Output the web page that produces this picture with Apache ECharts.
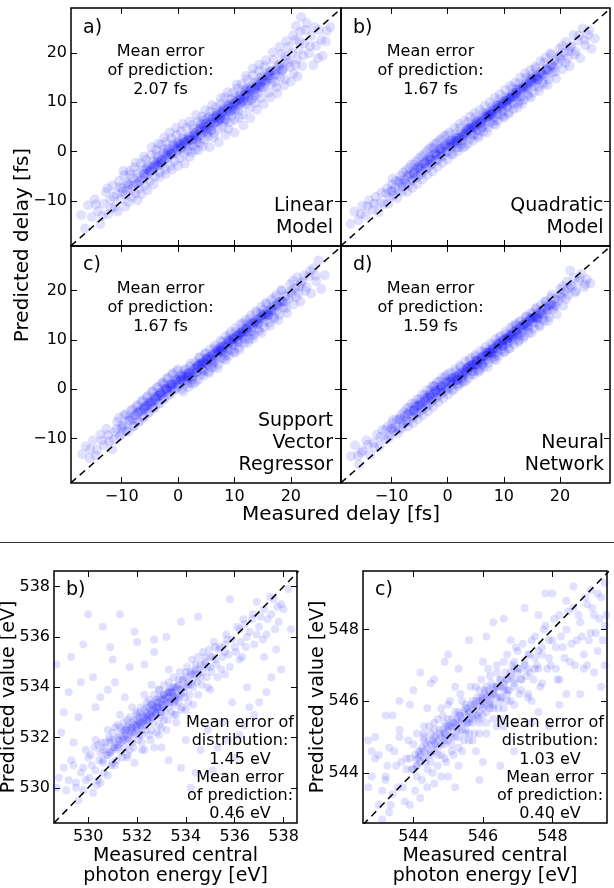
<!DOCTYPE html>
<html><head><meta charset="utf-8">
<script src="https://cdn.jsdelivr.net/npm/echarts@6/dist/echarts.min.js"></script>
<style>html,body{margin:0;padding:0;background:#fff}#c{width:614px;height:888px}</style>
</head><body><div id="c"></div>
<script>
// ---------- axis data ----------
const delayTicks = [-10, 0, 10, 20];
const delayX = [-19, 28.9];
const delayY = [-19.05, 29.05];
const energyBTicks = [530, 532, 534, 536, 538];
const energyBX = [528.6, 538.55];
const energyBY = [528.6, 538.62];
const energyCTicks = [544, 546, 548];
const energyCX = [542.55, 549.57];
const energyCY = [542.6, 549.63];

// ---------- point clouds [measured, predicted] ----------
const linearPts = [
[-17.2,-12.8],[-16.5,-15.5],[-16,-10.8],
[-15.3,-13.2],[-14.8,-9.6],[-14.2,-12],[-13.8,-14.6],
[-13.2,-10.5],[-12.8,-8.2],[-12.4,-12.6],[-12,-9.8],[-11.6,-6.8],
[-11.2,-11.2],[-10.9,-8.6],[-10.5,-5.9],[-10.2,-9.6],[-9.9,-7.4],[-9.6,-4.8],
[-9.3,-8.7],[-9,-6.2],[-8.8,-10.2],[-8.5,-4.6],[-8.3,-7.6],[-8,-5.5],[-7.8,-3.2],[-7.6,-8.4],
[-7.3,-6.4],[-7.1,-4.3],[-6.9,-7.5],[-6.6,-2.4],[-6.4,-5.6],[-6.2,-3.7],[-5.9,-6.9],[-5.7,-1.6],[-5.5,-4.6],
[-5.3,-2.8],[-5,-5.9],[-4.8,-0.6],[-4.6,-3.9],[-4.4,-1.9],[-4.1,-5],[-3.9,0.4],[-3.7,-2.9],[-3.5,-1],[-3.2,-4.2],
[-3,1.4],[-2.8,-2.1],[-2.6,-0.3],[-2.3,-3.6],[-2.1,1.9],[-1.9,-1.2],[-1.7,0.6],[-1.4,-2.8],[-1.2,2.7],[-1,-0.4],
[-0.8,1.2],[-0.6,-1.9],[-0.3,3.4],[-0.1,0.3],[0.1,2.1],[0.3,-1.3],[0.5,4.1],[0.7,1],[0.9,2.8],[1.1,-0.5],
[1.3,1.8],[1.5,4.8],[1.7,0.2],[1.9,3.1],[2.1,-1],[2.3,2.4],[2.5,5.4],[2.7,1.2],[2.9,3.7],[3.1,0.4],
[3.3,2.9],[3.5,6.1],[3.7,4.4],[3.9,1.7],[4.1,3.5],[4.3,7.1],[4.5,5.1],[4.7,2.4],[4.9,4.2],[5.1,6.6],
[5.3,3.1],[5.5,5.5],[5.7,8.2],[5.9,4.4],[6.1,6.7],[6.3,2.9],[6.5,5.9],[6.7,9],[6.9,7.3],[7.1,4.6],
[7.3,6.6],[7.5,9.7],[7.7,7.9],[7.9,5.1],[8.1,8.6],[8.3,11],[8.5,6.5],[8.7,9.3],[8.9,4.6],[9.1,8.1],
[9.3,10.6],[9.5,7.2],[9.7,11.9],[9.9,9.4],[10.1,6.4],[10.3,10.1],[10.5,12.8],[10.7,8.3],[10.9,11.2],[11.1,9.5],
[11.3,13.7],[11.5,7.5],[11.7,10.8],[11.9,12.4],[12.1,9.6],[12.3,14.6],[12.5,11.4],[12.7,8.8],[12.9,13.1],[13.1,10.7],
[13.3,15.5],[13.5,12.6],[13.7,9.9],[13.9,14.1],[14.1,11.8],[14.3,16.4],[14.5,13.5],[14.7,10.8],[14.9,15.2],[15.1,12.9],
[15.4,17.3],[15.7,14.4],[16,11.9],[16.3,16.2],[16.6,13.7],[16.9,18.6],[17.2,15.6],[17.5,13],[17.8,17.5],[18.1,15.1],
[18.4,19.8],[18.7,16.8],[19,14.6],[19.3,18.6],[19.6,21.2],[19.9,17.2],[20.2,19.9],[20.5,15.8],[20.8,22.6],[21.1,18.7],
[21.4,20.6],[21.7,24.3],[22,17.3],[22.4,21.9],[22.8,26],[23.2,19.9],[23.6,23.4],[24,17.5],[24.5,21.4],[25,24.6],[25.6,19.4],[26.2,22.3],[27,25.2],
[20.9,25.4],[21.8,27.2],
[0.3,1.6],[1.2,2.4],[2,1.1],[3,3.3],[3.9,4.7],[5,5.8],[5.8,4.3],[6.6,7],[7.4,8.2],[8.3,6.5],[9,9.6],[9.9,8.4],[10.6,10.3],[11.4,10],[12.2,12.7],[13,10.4],[13.8,12.7],[14.6,14.9],[15.5,14.3],[16.4,15.4],[-2.5,0.5],[-1.3,-0.3],[-3.6,-2],[-4.8,-3.4],[-6,-4.5],[-7.2,-5.2],[-8.6,-6.5],[-9.9,-8.1],
[-14.6,-10.6],[-13.5,-13],[-12.5,-7.4],[-11.9,-11.5],[-11.4,-9.1],[-10.7,-12.1],[-10.3,-7.2],[-9.7,-3.9],[-9.4,-11.1],[-9.1,-7.9],
[-8.6,-3.9],[-8.2,-9.3],[-7.9,-6.9],[-7.5,-2.2],[-7.2,-9.8],[-6.8,-5.9],[-6.5,-8.6],[-6.1,-1],[-5.8,-5.2],[-5.4,-7.8],
[-5.1,-3.9],[-4.7,0.9],[-4.3,-6.6],[-4,-2.6],[-3.6,1.6],[-3.3,-5.1],[-2.9,-1.5],[-2.5,2.9],[-2.2,-4.5],[-1.8,0.1],
[-1.5,3.9],[-1.1,-3.6],[-0.7,0.8],[-0.4,4.8],[0,-2.9],[0.4,1.4],[0.8,5.6],[1.2,-2.4],[1.6,2.6],[2,6.1],
[2.4,-0.1],[2.8,4.6],[3.2,7.4],[3.6,0.3],[4,5.6],[4.4,1.1],[4.8,8.4],[5.2,3.8],[5.6,0.9],[6,9.4],
[6.4,3.7],[6.8,7.9],[7.2,1.9],[7.6,10.8],[8,6],[8.4,3.4],[8.8,12],[9.2,5.9],[9.6,9.1],[10,3.9],
[10.4,13.6],[10.8,6.9],[11.2,12],[11.6,5.3],[12,15.3],[12.4,10.3],[12.8,6.8],[13.2,16.8],[13.6,11.3],[14,8.5],
[14.4,17.6],[14.8,13.1],[15.2,9.6],[15.6,18.5],[16,15.4],[16.4,11],[16.8,20.1],[17.2,14.1],[17.6,11.8],[18,21.2],
[18.4,16.5],[18.8,13.4],[19.2,22.4],[19.6,18],[20,14.2],[20.4,23.5],[20.8,17.6],[21.2,15.2],[21.6,22.3],[22.2,19.4],
[22.6,24.6],[23.4,21.3],[24.2,25.1],[24.8,18.9],[25.4,22.6],[26.4,24.4],[-1,1.5],[0.6,0.5],[1.8,2.2],[2.6,3.5],
[3.4,2],[4.2,4.3],[5.4,6.9],[6.2,5.4],[7,6],[7.8,7.5],[8.6,8.3],[9.4,9.7],[10.2,8.6],[11,10.6],
[11.8,11.5],[12.6,12.3],[13.4,13.9],[14.2,13.3],[15,14.4],[15.8,15.9],[16.6,16.4],[17.4,16.6],[18.2,17.9],[19,19.3],
[-5.6,-3.4],[-4.2,-3],[-3,-2.5],[-2,-0.2],[-0.2,1.7],[-7,-6.2],[-8.9,-6.7],[-3.8,-0.6],[4.6,6.4],[7.6,6.8]
];
const linearCorePts = [
[-6,-4.5],[-5.5,-3.6],[-5,-4],[-4.5,-3],[-4,-2.5],[-3.5,-2.7],[-3,-1.6],[-2.5,-1.7],[-2,-0.6],[-1.5,-0.8],
[-1,0.3],[-0.5,-0.3],[0,1.3],[0.5,0.8],[1,2],[1.5,1.4],[2,3],[2.5,2.3],[3,3.8],[3.5,3],
[4,4.7],[4.5,3.9],[5,5.6],[5.5,5],[6,6.4],[6.5,5.8],[7,7.4],[7.5,6.6],[8,8.2],[8.5,7.5],
[9,9.2],[9.5,8.4],[10,10],[10.5,9.3],[11,11],[11.5,10.2],[12,11.8],[12.5,11.1],[13,12.8],[13.5,12],
[14,13.6],[14.5,12.9],[15,14.6],[15.5,13.8],[16,15.4],[16.5,14.7],[17,16.4],[17.5,15.5],[18,17.2],[18.5,16.4],
[-0.2,0.6],[0.8,1.6],[1.8,2.4],[2.8,3.3],[3.8,4.2],[4.8,5.1],[5.8,5.9],[6.8,6.9],[7.8,7.9],[8.8,8.7],
[9.8,9.6],[10.8,10.5],[11.8,11.4],[12.8,12.4],[13.8,13.2],[14.8,14.1],[15.8,15],[-1.2,-0.5],[-2.2,-1.2],[-3.2,-2.2],
[6.2,7.2],[7.2,6.3],[8.2,9],[9.2,8.1],[10.2,11],[11.2,10],[5.2,4.6],[4.2,5.5],[3.2,2.4],[12.2,12.8]
];
const quadraticPts = [
[-17.3,-14.6],[-16.6,-12.1],[-15.9,-13.8],[-15.2,-10.9],[-14.6,-12.9],[-14,-9.8],[-13.4,-11.7],[-12.8,-9.1],[-12.3,-12.2],[-11.8,-8.3],
[-11.3,-10.6],[-10.8,-7.4],[-10.4,-9.3],[-10,-6.6],[-9.6,-8.9],[-9.2,-5.9],[-8.8,-7.9],[-8.4,-4.9],[-8,-7.1],[-7.7,-5.6],
[-7.4,-3.8],[-7.1,-6.8],[-6.8,-4.5],[-6.5,-2.6],[-6.2,-5.7],[-5.9,-3.7],[-5.6,-1.9],[-5.3,-4.9],[-5,-2.8],[-4.7,-0.9],
[-4.4,-4.1],[-4.1,-2],[-3.8,0.1],[-3.5,-3.2],[-3.2,-1.1],[-2.9,0.9],[-2.6,-2.4],[-2.3,-0.3],[-2,1.8],[-1.7,-1.6],
[-1.4,0.6],[-1.1,2.6],[-0.8,-0.8],[-0.5,1.4],[-0.2,3.4],[0.1,0.1],[0.4,2.2],[0.7,-0.4],[1,1.3],[1.3,3.7],
[1.6,0.8],[1.9,2.9],[2.2,4.8],[2.5,1.6],[2.8,3.5],[3.1,1.1],[3.4,4.3],[3.7,6],[4,2.6],[4.3,5],
[4.6,3.3],[4.9,6.9],[5.2,4.4],[5.5,2.9],[5.8,6.1],[6.1,4.8],[6.4,7.9],[6.7,5.6],[7,3.9],[7.3,7.2],
[7.6,5.9],[7.9,9.1],[8.2,7],[8.5,5.4],[8.8,8.4],[9.1,10.5],[9.4,7.4],[9.7,9.6],[10,6.9],[10.3,11.2],
[10.6,9],[10.9,7.6],[11.2,10.9],[11.5,12.9],[11.8,9.6],[12.1,11.8],[12.4,8.9],[12.7,13.8],[13,11.2],[13.3,9.7],
[13.6,13],[13.9,15],[14.2,11.6],[14.5,13.9],[14.8,10.9],[15.1,15.6],[15.4,13.2],[15.7,16.8],[16,14.6],[16.3,12.3],
[16.6,16.1],[16.9,14],[17.2,18.1],[17.5,15.3],[17.8,13.5],[18.1,17.2],[18.4,19.6],[18.7,16],[19,18.4],[19.3,14.8],
[19.6,17.8],[19.9,20.8],[20.2,18.6],[20.5,16.7],[20.8,20],[21.1,22.2],[21.4,19],[21.7,17.3],[22,21.3],[22.4,23.6],
[22.8,20.2],[23.2,22.4],[23.6,18.9],[24,24.9],[24.5,21.5],[25,23.6],[25.6,20.8],[26.2,22.9],
[0.2,1.6],[1.2,2.2],[2,0.9],[3,3.2],[3.9,4.6],[5,5.9],[5.7,4.2],[6.6,6.8],[7.4,8.1],[8.3,6.3],[8.9,9.5],[9.8,8.2],[10.5,10.1],[11.4,9.8],[12.2,12.6],[12.9,10.3],[13.8,12.5],[14.6,14.8],[15.5,14.1],[16.4,15.2],[-2.5,0.7],[-1.3,-0.2],[-3.6,-1.9],[-4.8,-3.3],[-6,-4.3],[-7.2,-4.9],[-8.6,-6.2],[-9.9,-7.9],[17.4,16.6],[18.9,17.1],[20,19.5],[21.6,20.3],
[-15.5,-12.6],[-14.3,-11],[-13.1,-10.5],[-12,-10.3],[-11,-8.4],[-10.6,-10.5],[-10.1,-8],[-9.8,-5.4],[-9.4,-7.3],[-9,-9.4],
[-8.6,-5.8],[-8.2,-8.2],[-7.9,-4.2],[-7.5,-6.4],[-7.2,-8.1],[-6.9,-3.3],[-6.6,-5.9],[-6.3,-7.3],[-6,-2.6],[-5.7,-5.3],
[-5.4,-6.5],[-5.1,-1.3],[-4.8,-4.6],[-4.5,-5.6],[-4.2,-0.5],[-3.9,-3.5],[-3.6,-4.7],[-3.3,0.6],[-3,-2.7],[-2.7,-4],
[-2.4,1.5],[-2.1,-1.8],[-1.8,-3.1],[-1.5,2.3],[-1.2,-1],[-0.9,-2.2],[-0.6,3.2],[-0.3,-0.1],[0,-1.5],[0.3,3.9],
[0.6,1],[0.9,-0.6],[1.2,4.8],[1.5,2.1],[1.8,0.1],[2.1,5.6],[2.4,2.9],[2.7,0.8],[3,6.2],[3.3,3.6],
[3.6,1.6],[3.9,7.1],[4.2,4.2],[4.5,2.2],[4.8,7.8],[5.1,5.3],[5.4,3.3],[5.7,8.5],[6,5.9],[6.3,4],
[6.6,9.3],[6.9,7],[7.2,4.9],[7.5,10],[7.8,7.6],[8.1,5.6],[8.4,10.9],[8.7,8.7],[9,6.3],[9.3,11.6],
[9.6,9.1],[9.9,7.2],[10.2,12.5],[10.5,10.3],[10.8,8],[11.1,13.3],[11.4,11],[11.7,8.6],[12,14],[12.3,11.9],
[12.6,9.8],[12.9,15],[13.2,12.7],[13.5,10.5],[13.8,15.8],[14.1,13.4],[14.4,11.2],[14.7,16.5],[15,14.3],[15.3,12],
[15.6,17.2],[15.9,15.3],[16.2,13.1],[16.5,18.3],[16.8,15.7],[17.1,13.6],[17.4,19],[17.7,16.5],[18,14.6],[18.3,19.9],
[18.6,17.5],[19.2,16.1],[19.8,19.1],[20.4,21.4],[21,18],[21.8,21],[22.6,19.6],[23.4,23.5],[24.4,22.6],[25.2,24.5],
[0.5,1.6],[1.6,2.8],[2.6,2.3],[3.5,4.5],[4.4,3.5],[5.3,6.2],[6.2,5.1],[7.1,6.9],[8,8.3],[8.9,7.6],
[9.8,10],[10.7,9.3],[11.6,11.8],[12.5,11.1],[13.4,13.2],[14.3,12.8],[15.2,14.8],[16.1,14.6],[-1,0.7],[-2,-0.6],
[-3.1,-1.6],[-4.1,-2.4],[-5.2,-3.1],[-6.1,-4.5],[-7,-5],[-8.1,-6.4],[7.6,7.5],[4.7,4.9],[1.7,1.9],[10.9,10.6]
];
const quadraticCorePts = [
[-6,-4.2],[-5.5,-3.3],[-5,-3.5],[-4.5,-2.5],[-4,-2.4],[-3.5,-1.6],[-3,-1.6],[-2.5,-0.6],[-2,-0.7],[-1.5,0.3],
[-1,0.2],[-0.5,1.1],[0,1],[0.5,2],[1,1.9],[1.5,2.9],[2,2.8],[2.5,3.7],[3,3.7],[3.5,4.6],
[4,4.4],[4.5,5.5],[5,5.3],[5.5,6.3],[6,6.1],[6.5,7.2],[7,7],[7.5,8],[8,7.9],[8.5,8.9],
[9,8.8],[9.5,9.7],[10,9.8],[10.5,10.6],[11,10.5],[11.5,11.5],[12,11.4],[12.5,12.4],[13,12.3],[13.5,13.2],
[14,13.2],[14.5,14.1],[15,13.9],[15.5,14.9],[16,14.8],[16.5,15.9],[17,15.6],[17.5,16.7],[18,16.5],[18.5,17.6],
[-0.2,1.4],[0.8,2.3],[1.8,2.2],[2.8,3.1],[3.8,4.9],[4.8,5],[5.8,5.7],[6.8,7.6],[7.8,7.5],[8.8,9.4],
[9.8,9.2],[10.8,11],[11.8,11.1],[12.8,12.8],[13.8,13.7],[14.8,14.5],[15.8,15.2],[-1.2,0.6],[-2.2,-0.3],[-3.2,-1.1],
[6.2,6.7],[7.2,7.5],[8.2,8.5],[9.2,9.3],[10.2,10.2],[11.2,11.1],[5.2,5.8],[4.2,4.9],[3.2,4.1],[12.2,11.9]
];
const svrPts = [
[-17,-13.2],[-16.4,-11.6],[-15.7,-14],[-15.1,-10.4],[-14.4,-12.3],[-13.8,-9.2],[-13.2,-11.4],[-12.7,-8.1],[-12.2,-10.6],[-11.7,-12.2],
[-11.2,-8.7],[-10.8,-6.6],[-10.4,-9.6],[-10,-7.4],[-9.6,-5.3],[-9.2,-8.5],[-8.8,-6.4],[-8.4,-4.4],[-8,-7.6],[-7.7,-5.4],
[-7.4,-3.6],[-7.1,-6.6],[-6.8,-4.6],[-6.5,-2.5],[-6.2,-5.8],[-5.9,-3.6],[-5.6,-1.7],[-5.3,-4.8],[-5,-2.5],[-4.7,-0.6],
[-4.4,-3.9],[-4.1,-1.6],[-3.8,0.4],[-3.5,-2.9],[-3.2,-0.8],[-2.9,1.2],[-2.6,-2.1],[-2.3,0.1],[-2,2.1],[-1.7,-1.2],
[-1.4,1],[-1.1,3],[-0.8,-0.4],[-0.5,1.8],[-0.2,3.7],[0.1,0.5],[0.4,2.6],[0.7,0],[1,1.8],[1.3,4.1],
[1.6,1.2],[1.9,3.3],[2.2,5.2],[2.5,2],[2.8,4],[3.1,1.4],[3.4,4.7],[3.7,6.4],[4,3],[4.3,5.4],
[4.6,3.6],[4.9,7.3],[5.2,4.9],[5.5,3.3],[5.8,6.5],[6.1,5.2],[6.4,8.3],[6.7,6.1],[7,4.3],[7.3,7.7],
[7.6,6.3],[7.9,9.6],[8.2,7.4],[8.5,5.9],[8.8,8.9],[9.1,11],[9.4,7.9],[9.7,10.1],[10,7.4],[10.3,11.7],
[10.6,9.5],[10.9,8],[11.2,11.4],[11.5,13.4],[11.8,10.1],[12.1,12.3],[12.4,9.4],[12.7,14.3],[13,11.7],[13.3,10.2],
[13.6,13.5],[13.9,15.5],[14.2,12.2],[14.5,14.4],[14.8,11.4],[15.1,16.1],[15.4,13.7],[15.7,17.3],[16,15.1],[16.3,12.8],
[16.6,16.6],[16.9,14.6],[17.2,18.6],[17.5,15.8],[17.8,14],[18.1,17.7],[18.4,20.1],[18.7,16.5],[19,18.9],[19.3,15.4],
[19.6,18.3],[19.9,21.3],[20.2,19.1],[20.5,17.2],[20.8,20.5],[21.1,22.7],[21.4,19.6],[21.7,17.8],[22,21.8],[22.4,23.1],
[22.8,20.7],[23.2,22.9],[23.6,19.4],[24,24.6],[24.5,21.9],[24.9,26.1],[25.4,20.3],[26,23.1],
[0.3,1.7],[1.4,2.6],[2.1,1.2],[3.2,3.4],[4.1,4.8],[5.1,6.1],[5.9,4.4],[6.7,7.3],[7.5,8.6],[8.4,6.8],[9,10],[9.9,8.9],[10.6,10.8],[11.5,10.5],[12.3,13.3],[13.1,11],[13.9,13.1],[14.7,15.4],[15.6,14.8],[16.5,15.7],[-2.5,1],[-1.3,0.3],[-3.6,-1.4],[-4.8,-2.8],[-6,-3.9],[-7.2,-4.7],[-8.6,-5.8],[-9.9,-7.9],[17.5,17.2],[19,17.7],[20.1,20.1],[21.5,20.8],
[-15.6,-12.2],[-14.6,-13.5],[-13.5,-10.4],[-12.4,-9.3],[-11.4,-10.2],[-10.9,-8.1],[-10.5,-5.8],[-10.1,-9.2],[-9.7,-7.4],[-9.3,-5.1],
[-8.9,-8.6],[-8.5,-6.3],[-8.1,-4.1],[-7.8,-7.5],[-7.5,-5.2],[-7.2,-3.2],[-6.9,-6.6],[-6.6,-4.3],[-6.3,-2.3],[-6,-5.6],
[-5.7,-3.4],[-5.4,-1.4],[-5.1,-4.7],[-4.8,-2.5],[-4.5,-0.5],[-4.2,-3.8],[-3.9,-1.6],[-3.6,0.4],[-3.3,-2.9],[-3,-0.7],
[-2.7,1.4],[-2.4,-1.9],[-2.1,0.2],[-1.8,2.3],[-1.5,-1],[-1.2,1.1],[-0.9,3.2],[-0.6,0],[-0.3,2],[0,4],
[0.3,0.9],[0.6,2.9],[0.9,-0.5],[1.2,3.8],[1.5,1.7],[1.8,0.4],[2.1,4.6],[2.4,2.6],[2.7,1.1],[3,5.5],
[3.3,3.5],[3.6,1.9],[3.9,6.4],[4.2,4.2],[4.5,2.7],[4.8,7.2],[5.1,5.2],[5.4,3.6],[5.7,8.1],[6,6],
[6.3,4.4],[6.6,8.9],[6.9,6.9],[7.2,5.1],[7.5,9.8],[7.8,7.7],[8.1,6.1],[8.4,10.7],[8.7,8.5],[9,6.8],
[9.3,11.6],[9.6,9.3],[9.9,7.6],[10.2,12.4],[10.5,10.1],[10.8,8.5],[11.1,13.2],[11.4,11.1],[11.7,9.3],[12,14],
[12.3,11.8],[12.6,10.2],[12.9,15],[13.2,12.7],[13.5,11],[13.8,15.8],[14.1,13.5],[14.4,11.8],[14.7,16.7],[15,14.4],
[15.3,12.6],[15.6,17.5],[15.9,15.2],[16.2,13.5],[16.5,18.2],[16.8,16.1],[17.1,14.3],[17.4,19.1],[17.7,16.9],[18,15.1],
[18.3,19.9],[18.6,17.8],[19.2,16.4],[19.8,19.6],[20.4,22],[21,18.6],[21.8,21.5],[22.6,19.9],[23.4,24],[24.4,23],
[0.5,2],[1.6,3.1],[2.6,2.5],[3.5,4.9],[4.4,3.8],[5.3,6.5],[6.2,5.5],[7.1,7.2],[8,8.6],[8.9,7.9],
[9.8,10.4],[10.7,9.7],[11.6,12.2],[12.5,11.5],[13.4,13.6],[14.3,13.2],[15.2,15.1],[16.1,15],[-1,1],[-2,-0.3],
[-3.1,-1.2],[-4.1,-2.1],[-5.2,-2.8],[-6.1,-4.1],[-7,-4.7],[-8.1,-6],[7.6,7.9],[4.7,5.3],[1.7,2.2],[10.9,11]
];
const svrCorePts = [
[-6,-3.9],[-5.5,-3.3],[-5,-3.1],[-4.5,-2.5],[-4,-2.1],[-3.5,-1.4],[-3,-1.2],[-2.5,-0.5],[-2,-0.2],[-1.5,0.4],
[-1,0.6],[-0.5,1.2],[0,1.5],[0.5,2],[1,2.4],[1.5,2.9],[2,3.3],[2.5,3.7],[3,4.2],[3.5,4.6],
[4,5.1],[4.5,5.5],[5,6.1],[5.5,6.4],[6,7],[6.5,7.3],[7,7.8],[7.5,8.3],[8,8.6],[8.5,9.1],
[9,9.5],[9.5,10.1],[10,10.3],[10.5,10.9],[11,11.3],[11.5,11.7],[12,12.3],[12.5,12.6],[13,13.2],[13.5,13.5],
[14,14.1],[14.5,14.3],[15,15],[15.5,15.2],[16,15.9],[16.5,16.1],[17,16.8],[17.5,17.1],[18,17.7],[18.5,18],
[-0.2,1.9],[0.8,2.6],[1.8,2.5],[2.8,3.3],[3.8,5.2],[4.8,5.3],[5.8,6],[6.8,8],[7.8,7.8],[8.8,9.8],
[9.8,9.5],[10.8,11.4],[11.8,11.5],[12.8,13.1],[13.8,14],[14.8,14.8],[15.8,15.5],[-1.2,0.9],[-2.2,0],[-3.2,-0.8],
[6.2,7],[7.2,8],[8.2,8.8],[9.2,9.7],[10.2,10.6],[11.2,11.5],[5.2,6.1],[4.2,5.2],[3.2,4.4],[12.2,12.2]
];
const nnPts = [
[-17.2,-13.6],[-16.5,-11.4],[-15.8,-15.3],[-15.1,-12.5],[-14.5,-10.4],[-13.8,-13.3],[-13.2,-10.9],[-12.6,-9.2],[-12.1,-11.6],[-11.6,-8.3],
[-11.1,-10.2],[-10.7,-7.6],[-10.3,-9.4],[-9.9,-6.9],[-9.5,-8.6],[-9.1,-6.2],[-8.7,-8.2],[-8.3,-5.2],[-7.9,-7.1],[-7.6,-5.5],
[-7.3,-3.9],[-7,-6.6],[-6.7,-4.5],[-6.4,-2.9],[-6.1,-5.6],[-5.8,-3.6],[-5.5,-2.1],[-5.2,-4.8],[-4.9,-2.7],[-4.6,-1.1],
[-4.3,-3.9],[-4,-1.8],[-3.7,-0.2],[-3.4,-3.1],[-3.1,-1],[-2.8,0.6],[-2.5,-2.1],[-2.2,-0.2],[-1.9,1.5],[-1.6,-1.3],
[-1.3,0.7],[-1,2.3],[-0.7,-0.5],[-0.4,1.4],[-0.1,3],[0.2,0.3],[0.5,2.2],[0.8,-0.1],[1.1,1.6],[1.4,3.5],
[1.7,1],[2,2.9],[2.3,4.5],[2.6,1.8],[2.9,3.6],[3.2,1.6],[3.5,4.3],[3.8,5.8],[4.1,3],[4.4,5],
[4.7,3.6],[5,6.6],[5.3,4.8],[5.6,3.5],[5.9,6.1],[6.2,5.1],[6.5,7.7],[6.8,5.9],[7.1,4.5],[7.4,7.4],
[7.7,6.3],[8,9],[8.3,7.3],[8.6,5.9],[8.9,8.7],[9.2,10.5],[9.5,7.9],[9.8,9.8],[10.1,7.5],[10.4,11.2],
[10.7,9.4],[11,8.2],[11.3,11.1],[11.6,12.8],[11.9,10],[12.2,12],[12.5,9.5],[12.8,13.7],[13.1,11.5],[13.4,10.3],
[13.7,13.1],[14,14.8],[14.3,12],[14.6,14],[14.9,11.4],[15.2,15.4],[15.5,13.4],[15.8,16.5],[16.1,14.6],[16.4,12.7],
[16.7,16],[17,14.3],[17.3,17.8],[17.6,15.4],[17.9,13.8],[18.2,17.1],[18.5,19.2],[18.8,16.2],[19.1,18.3],[19.4,15.2],
[19.7,17.9],[20,20.3],[20.3,18.6],[20.6,16.9],[20.9,19.9],[21.2,21.8],[21.5,19.1],[21.8,24.1],[22.1,20.8],[22.5,22.6],
[22.9,19.9],[23.3,21.9],[23.8,23.4],[24.3,20.7],[24.8,22.3],[25.4,21.5],
[0.3,1.5],[1.3,2.4],[2.1,1.1],[3.1,3.2],[4,4.5],[5.1,5.7],[5.8,4.2],[6.6,6.8],[7.5,8],[8.4,6.6],[9,9.4],[9.9,8.7],[10.6,10.3],[11.4,10.2],[12.2,12.9],[13,10.9],[13.8,12.6],[14.6,14.5],[15.5,14.4],[16.4,15.2],[-2.5,0.6],[-1.3,-0.2],[-3.6,-1.7],[-4.8,-3.2],[-6,-4.2],[-7.2,-5],[-8.6,-6.1],[-9.9,-8],[17.5,16.7],[19,17.2],[20.1,19.4],[21.5,20.5],
[-15.4,-12.9],[-14.2,-11.3],[-13,-11.8],[-12,-9.7],[-11,-8.2],[-10.5,-9.9],[-10,-8.1],[-9.7,-6.2],[-9.3,-7.8],[-8.9,-9],
[-8.5,-6.1],[-8.1,-7.9],[-7.8,-4.7],[-7.4,-6.4],[-7.1,-7.6],[-6.8,-3.7],[-6.5,-5.7],[-6.2,-6.9],[-5.9,-3],[-5.6,-5],
[-5.3,-6.1],[-5,-2],[-4.7,-4.3],[-4.4,-5.3],[-4.1,-1.2],[-3.8,-3.5],[-3.5,-4.5],[-3.2,-0.3],[-2.9,-2.6],[-2.6,-3.6],
[-2.3,0.7],[-2,-1.8],[-1.7,-2.7],[-1.4,1.6],[-1.1,-0.9],[-0.8,-1.9],[-0.5,2.5],[-0.2,-0.1],[0.1,-1.1],[0.4,3.3],
[0.7,0.9],[1,-0.2],[1.3,4.1],[1.6,1.8],[1.9,0.6],[2.2,4.8],[2.5,2.7],[2.8,1.4],[3.1,5.6],[3.4,3.5],
[3.7,2.2],[4,6.3],[4.3,4.3],[4.6,2.9],[4.9,7],[5.2,5.1],[5.5,3.8],[5.8,7.8],[6.1,5.9],[6.4,4.5],
[6.7,8.5],[7,6.7],[7.3,5.3],[7.6,9.3],[7.9,7.5],[8.2,6],[8.5,10.1],[8.8,8.2],[9.1,6.8],[9.4,10.8],
[9.7,8.9],[10,7.6],[10.3,11.7],[10.6,9.8],[10.9,8.3],[11.2,12.4],[11.5,10.6],[11.8,9.1],[12.1,13.2],[12.4,11.3],
[12.7,9.9],[13,13.9],[13.3,12.1],[13.6,10.7],[13.9,14.7],[14.2,12.9],[14.5,11.4],[14.8,15.4],[15.1,13.6],[15.4,12.3],
[15.7,16.2],[16,14.4],[16.3,13],[16.6,17],[16.9,15.2],[17.2,13.8],[17.5,17.8],[17.8,16],[18.1,14.6],[18.4,18.6],
[18.7,16.7],[19.3,16.9],[19.9,18.9],[20.5,20.9],[21.1,18.3],[21.9,21.1],[22.7,19.6],[23.5,22.5],[24.5,21.3],[-16,-13.5],
[0.5,1.5],[1.6,2.6],[2.6,2.3],[3.5,4.4],[4.4,3.6],[5.3,6],[6.2,5.1],[7.1,6.8],[8,8.1],[8.9,7.5],
[9.8,9.8],[10.7,9.2],[11.6,11.6],[12.5,11],[13.4,13],[14.3,12.6],[15.2,14.5],[16.1,14.3],[-1,0.6],[-2,-0.7],
[-3.1,-1.7],[-4.1,-2.5],[-5.2,-3.3],[-6.1,-4.6],[-7,-5.1],[-8.1,-6.5],[7.6,7.4],[4.7,4.8],[1.7,1.8],[10.9,10.4]
];
const nnCorePts = [
[-6,-4.3],[-5.5,-3.6],[-5,-3.3],[-4.5,-2.8],[-4,-2.3],[-3.5,-1.9],[-3,-1.4],[-2.5,-1],[-2,-0.4],[-1.5,-0.2],
[-1,0.4],[-0.5,0.6],[0,1.3],[0.5,1.5],[1,2.2],[1.5,2.4],[2,3],[2.5,3.3],[3,3.9],[3.5,4.1],
[4,4.8],[4.5,5],[5,5.7],[5.5,5.9],[6,6.5],[6.5,6.8],[7,7.4],[7.5,7.6],[8,8.3],[8.5,8.5],
[9,9.1],[9.5,9.4],[10,10],[10.5,10.2],[11,10.9],[11.5,11.1],[12,11.8],[12.5,12],[13,12.7],[13.5,12.9],
[14,13.5],[14.5,13.8],[15,14.4],[15.5,14.6],[16,15.3],[16.5,15.5],[17,16.1],[17.5,16.3],[18,17],[18.5,17.2],
[-0.2,1.6],[0.8,2.2],[1.8,2],[2.8,2.9],[3.8,4.6],[4.8,4.9],[5.8,5.5],[6.8,7.4],[7.8,7.2],[8.8,9.1],
[9.8,8.8],[10.8,10.7],[11.8,10.9],[12.8,12.5],[13.8,13.4],[14.8,14.2],[15.8,14.9],[-1.2,0.5],[-2.2,-0.4],[-3.2,-1.2],
[6.2,6.6],[7.2,7.4],[8.2,8.2],[9.2,9.1],[10.2,10.1],[11.2,11],[5.2,5.6],[4.2,4.8],[3.2,3.8],[12.2,11.7]
];
const energyBPts = [
[528.8,530.4],[529.1,529.9],[529.3,531.1],[529.5,530.2],[529.6,529.5],[529.8,530.8],[529.9,530.3],[530.1,531.3],[530.2,529.8],[530.3,530.7],
[530.4,531.7],[530.5,530.2],[530.6,531],[530.7,531.8],[530.8,530.5],[530.9,531.4],[531,532.2],[531.1,530.9],[531.2,531.6],[531.3,532.4],
[531.4,531.2],[531.5,531.9],[531.6,532.7],[531.7,531.5],[531.8,532.2],[531.9,531],[532,532.4],[532.1,533],[532.2,531.8],[532.3,532.5],
[532.4,533.2],[532.5,532.1],[532.6,532.8],[532.7,531.6],[532.8,533.4],[532.9,532.5],[533,533],[533.1,533.7],[533.2,532.3],[533.3,533.2],
[533.4,534],[533.5,532.9],[533.6,533.5],[533.7,534.3],[533.8,533.1],[533.9,533.8],[534,534.6],[534.1,533.4],[534.2,534.1],[534.4,534.9],
[534.5,533.7],[534.6,534.4],[534.8,535.2],[534.9,534],[535,534.8],[535.2,535.6],[535.3,534.4],[535.5,535.2],[535.7,535.9],[535.8,534.8],
[536,535.6],[536.2,536.3],[536.3,535.2],[536.5,536],[536.7,536.7],[536.8,535.7],[537,536.4],[537.2,537.1],[537.3,536.1],[537.5,536.9],
[537.6,537.5],[537.8,536.6],[537.9,537.3],
[531.5,532.3],[531.8,531.8],[532,532.9],[532.2,532.3],[532.4,532.7],[532.5,533.5],[532.6,532.3],[532.8,532.9],[533,533.5],[533.1,532.7],
[533.3,533.8],[533.5,533.4],[532.9,533.9],[532.3,531.5],[531.6,531.3],[531.2,532.5],[530.9,531.9],[533.7,533.6],[534,534],[534.3,534.5],
[532.7,533.1],[532.1,532.1],[531.4,532],[530.6,531.5],
[531.3,536.9],[530.6,536.4],[529.8,535.7],[531.9,536.2],[532.7,535.4],[530.2,534.4],[529.2,533.8],[531,535.1],[529.6,532.8],[530.8,533.9],
[531.7,534.8],[528.9,532.2],[530.3,533.2],[532.3,534.9],[533.2,536],[533.8,536.6],[531.5,533.6],[529.4,531.8],[528.7,534.9],[530,536.9],
[536.8,532.9],[537.5,534.4],[536.2,532.1],[535.1,530.7],[534.2,530],[536.5,534],[537.2,535.2],[535.5,532.6],[534.6,531.5],[533.8,530.8],
[535.9,533.4],[537.7,535.5],[533.3,531.1],[534.9,532.3],[536,531.2],[538.2,537.9],[538.3,536.3],[528.7,530],
[529.4,530.9],[529.5,530],[529.7,530.6],[529.8,529.9],[530,531.2],[530.05,530.4],[530.15,530.9],[530.25,531.6],[530.35,530.1],[530.45,531.1],
[530.55,531.8],[530.65,530.6],[530.75,531.3],[530.85,532],[530.95,530.9],[531.05,531.6],[531.1,532.4],[531.15,531.1],[531.25,531.9],[531.35,531.4],
[531.45,532.6],[531.5,531.6],[531.55,532.1],[531.65,531.9],[531.7,532.8],[531.75,532.3],[531.85,531.6],[531.9,532.5],[531.95,533],[532.05,531.9],
[532.1,532.6],[532.15,533.2],[532.2,532.1],[532.25,532.8],[532.35,532.3],[532.4,533.4],[532.45,532.6],[532.5,532.9],[532.55,531.9],[532.6,533.3],
[532.65,532.6],[532.7,533.7],[532.75,532.9],[532.8,532.2],[532.85,533.2],[532.9,533.9],[532.95,532.8],[533,532.4],[533.05,533.3],[533.1,534.1],
[533.15,533],[533.2,533.6],[533.25,532.7],[533.3,534.2],[533.35,533.4],[533.4,533],[533.45,533.8],[533.5,534.4],[533.55,533.3],[533.6,532.9],
[533.65,534],[533.7,533.4],[533.75,534.6],[533.8,533.7],[533.85,533.2],[533.9,534.3],[533.95,533.6],[534,533.1],[534.05,534.8],[534.1,534.1],
[534.15,533.7],[534.2,534.5],[534.25,535.1],[534.3,534],[534.35,534.6],[534.45,534.2],[534.5,535.2],[534.55,534.7],[534.65,534.1],[534.7,535.4],
[534.75,534.9],[534.85,534.4],[534.95,535.5],[535.05,534.6],[535.1,535.2],[535.15,535.8],[535.25,534.9],[535.35,535.5],[535.45,534.7],[535.6,535.7],
[535.65,536.1],[535.75,535.3],[535.9,535.9],[536.05,535.4],[536.1,536.4],[536.25,535.8],[536.4,536.5],[536.45,535.6],[536.6,536.2],[536.75,536.9],
[536.9,536.1],[537.05,536.8],[537.15,535.9],[537.35,536.7],[537.45,537.6],[537.65,536.3],[537.75,537.2],[538,537.1],[536.9,537.4],[536.35,536.7],
[529,530.8],[529.2,530.3],[529.9,531.5],[530.3,531.9],[530.8,532.3],[531.3,532.9],[531.8,533.2],[532.3,533.7],[532.6,534.1],[533.3,534.7],
[530.4,530.3],[531,531],[531.6,531.2],[532.2,531.5],[532.9,532.1],[533.6,532.6],[534.3,533.3],[535,533.9],[535.6,534.5],[536.2,535.1],
[532.7,535.9],[531.1,534.2],[530.5,533.6],[529.7,534.2],[530.9,535.6],[532,535.8],[534.5,536.8],[529,533],[535.8,537.5],[529.3,535.2],
[535.3,531.6],[536.6,533.2],[537.3,533.8],[534,531.9],[533,531.6],[535.7,531.9],[537.9,534.7],[536.4,532.5],[534.4,530.6],[537,533.4]
];
const energyBCorePts = [
[530.5,531.4],[530.6,531.1],[530.7,531.6],[530.8,531.3],[530.9,531.8],[531,531.5],[531.05,531.9],[531.1,531.6],[531.2,532],[531.25,531.7],
[531.3,532.1],[531.35,531.8],[531.4,532.3],[531.45,531.9],[531.55,532.3],[531.6,532],[531.65,532.5],[531.7,532.1],[531.75,532.4],[531.8,532.6],
[531.85,532.2],[531.9,532.7],[531.95,532.4],[532,532.7],[532.05,532.3],[532.1,532.8],[532.15,532.5],[532.2,532.9],[532.25,532.6],[532.3,533.1],
[532.35,532.7],[532.4,533],[532.45,532.8],[532.5,533.2],[532.55,532.9],[532.6,533.3],[532.65,532.8],[532.7,533.2],[532.75,533],[532.8,533.5],
[532.85,533.1],[532.9,533.4],[532.95,533],[533,533.6],[533.05,533.2],[533.1,533.5],[533.15,533.3],[533.2,533.8],[533.25,533.4],[533.3,533.6],
[533.35,533.9],[533.4,533.5],[533.45,533.7],[533.5,534],[533.55,533.6],[533.6,533.9],[533.65,533.7],[533.7,534.1],[533.8,533.9],[533.85,534.3],
[533.9,534],[534,534.4],[534.1,534.2],[534.2,534.6],[534.3,534.3],[534.4,534.7],[534.5,534.5],[534.6,534.9],[534.7,534.6],[534.8,535],
[534.9,534.8],[535,535.2],[535.2,535.1],[535.4,535.6],[535.6,535.4],[531.2,531.7],[531.5,532.2],[531.8,532.4],[532.1,532.6],[532.4,532.9],
[532.6,533],[532.8,533.2],[533,533.3],[533.2,533.5],[533.4,533.8],[533.6,534],[532.2,532.6],[532.5,532.7],[532.7,533.4],[532.9,533.2],
[533.1,533.7],[532.3,532.8],[531.9,532.1],[532,532.5],[532.6,533.1],[533.3,533.8],[531.6,532.4],[532.9,533.6],[533.5,533.6],[530.9,531.4]
];
const energyCPts = [
[542.7,543.6],[542.9,544.4],[543,543.1],[543.2,543.9],[543.3,544.7],[543.4,543.4],[543.5,544.2],[543.6,545],[543.7,543.6],[543.8,544.4],
[543.9,543.1],[544,544.8],[544.1,543.9],[544.2,544.5],[544.3,545.3],[544.4,544.1],[544.5,544.8],[544.6,543.7],[544.7,545.5],[544.8,544.5],
[544.9,545.1],[545,545.9],[545.1,544.6],[545.2,545.4],[545.3,544.2],[545.4,546],[545.5,545.2],[545.6,545.7],[545.7,544.9],[545.8,546.4],
[545.9,545.5],[546,546.1],[546.1,545.1],[546.2,546.7],[546.3,545.9],[546.4,546.4],[546.5,545.5],[546.6,547.1],[546.7,546.2],[546.8,546.8],
[546.9,545.9],[547,547.4],[547.1,546.6],[547.2,547.1],[547.3,546.2],[547.4,547.7],[547.5,546.9],[547.6,547.4],[547.7,546.5],[547.8,548.1],
[547.9,547.2],[548,547.7],[548.1,546.9],[548.2,548.4],[548.3,547.5],[548.4,548],[548.5,547.1],[548.6,548.6],[548.7,547.7],[548.8,548.2],
[548.9,547.3],[549,548.7],[549.1,547.9],[549.2,548.4],[549.3,547.4],[549.4,548.9],[549.5,548.1],
[544.3,544.6],[544.6,545],[544.9,544.4],[545.1,545.3],[545.3,545],[545.5,545.8],[545.7,545.4],[545.9,546],[546.1,545.7],[546.3,546.3],
[546.5,546],[546.7,546.6],[544.1,544.2],[544.5,544.3],[545,545.5],[545.6,545.1],[546,545.9],[546.4,546.8],[546.9,546.5],[547.3,546.9],
[547.7,547.3],[544.8,545.8],[545.4,544.6],[546.2,546.1],
[543.2,545.6],[542.9,545],[544,546.3],[543.6,546],[545,547.3],[544.6,546.6],[546.3,548.2],[545.6,547.7],[547.8,549],[548.6,549.2],
[546.9,544.6],[547.4,545.4],[548.2,545.9],[545.9,543.8],[549.2,546.8],[548.8,546.2],[546.5,544.2],[549.5,547],[542.7,544.9],[543.1,542.7],
[542.8,543.9],[543,544.5],[543.1,543.5],[543.25,544.2],[543.35,543.1],[543.45,544.6],[543.55,543.6],[543.65,544.3],[543.75,543.2],[543.85,544.9],
[543.95,544.1],[544.05,543.5],[544.1,545.1],[544.15,544.4],[544.25,543.8],[544.3,545],[544.35,544.3],[544.4,543.6],[544.45,545.3],[544.5,544.6],
[544.55,544],[544.6,545.4],[544.65,544.8],[544.7,544.2],[544.75,545.2],[544.8,543.9],[544.85,545.6],[544.9,544.8],[544.95,544.3],[545,545.3],
[545.05,546],[545.1,545],[545.15,544.5],[545.2,545.7],[545.25,545.2],[545.3,544.7],[545.35,546.2],[545.4,545.4],[545.45,544.9],[545.5,545.9],
[545.55,545.4],[545.6,544.9],[545.65,546.4],[545.7,545.6],[545.75,545.1],[545.8,546],[545.85,545.6],[545.9,545.1],[545.95,546.6],[546,545.6],
[546.05,546.3],[546.1,545.4],[546.15,546.9],[546.2,545.9],[546.25,546.5],[546.3,545.5],[546.35,546.2],[546.4,547],[546.45,545.8],[546.5,546.6],
[546.55,546.1],[546.6,545.8],[546.65,546.8],[546.7,547.3],[546.75,546.3],[546.8,546],[546.85,547],[546.9,546.6],[546.95,547.5],[547.05,546.2],
[547.1,546.9],[547.15,547.6],[547.25,546.7],[547.3,546.1],[547.35,547.3],[547.45,546.6],[547.5,547.8],[547.55,547],[547.65,546.4],[547.7,547.5],
[547.75,548],[547.85,546.9],[547.9,547.7],[547.95,547],[548.05,548.3],[548.1,547.5],[548.15,546.6],[548.25,547.8],[548.35,547.2],[548.45,548.5],
[548.55,547.6],[548.65,547],[548.75,548.4],[548.85,547.8],[548.95,548.9],[549.05,547.7],[549.15,548.6],[549.25,547.9],[549.35,548.3],[549.45,547.7],
[549.55,548.4],[549.3,549],[549.1,549.1],[548.4,548.8],[547.6,548.4],[546.8,547.7],[546,547.1],[545.2,546.4],[544.4,545.8],[543.6,545.2],
[544.2,543.3],[545,543.9],[545.8,544.6],[546.6,545.3],[547.4,546],[548.2,546.6],[549,547],[543.3,542.9],[544.9,545],[545.6,545.5],
[546.2,545.8],[546.6,546.4],[547,546.8],[545.3,545.6],[544.7,544.9],[546.9,547.1],[547.3,547.3],[544.3,545.1],[545.9,546.3],[546.4,545.3],
[543.9,545.9],[544.5,546.5],[545.3,546.9],[546.1,547.8],[543.4,545.6],[544.9,547.1],[547.2,548.6],[547.6,545.7],[548.4,546.2],[546,544.3],
[549.4,546.4],[547.9,545.3],[545.2,543.6],[548.9,546.9],[542.8,544.6],[543.2,543.8],[549.5,549.3],[548,549],[546.6,548.3],[544.2,546.8]
];
const energyCCorePts = [
[543.8,544.1],[543.9,544.4],[544,544.1],[544.05,544.5],[544.1,544.2],[544.15,544.6],[544.2,544.3],[544.25,544.7],[544.3,544.4],[544.35,544.8],
[544.4,544.5],[544.45,544.9],[544.5,544.5],[544.55,544.9],[544.6,544.6],[544.65,545],[544.7,544.7],[544.75,545.1],[544.8,544.8],[544.85,545.2],
[544.9,544.9],[544.95,545.3],[545,544.9],[545.05,545.3],[545.1,545.1],[545.15,545.4],[545.2,545],[545.25,545.5],[545.3,545.2],[545.35,545.6],
[545.4,545.2],[545.45,545.7],[545.5,545.4],[545.55,545.8],[545.6,545.4],[545.65,545.9],[545.7,545.5],[545.75,545.9],[545.8,545.6],[545.85,546.1],
[545.9,545.7],[545.95,546.1],[546,545.8],[546.05,546.2],[546.1,545.9],[546.15,546.3],[546.2,546],[546.3,546.2],[546.4,546.4],[546.5,546.1],
[546.6,546.5],[546.7,546.3],[546.8,546.7],[546.9,546.4],[547,546.9],[547.1,546.6],[547.2,547],[547.35,546.8],[547.5,547.2],[547.6,546.9],
[544.3,544.9],[544.5,545.1],[544.7,544.5],[544.9,545.4],[545.1,544.8],[545.3,545.7],[545.5,545.1],[545.7,546],[545.9,545.4],[546.1,546.4],
[546.3,545.8],[546.5,546.6],[546.7,546],[546.9,546.9],[547.1,546.3],[544.4,544.7],[544.6,544.8],[544.8,545],[545,545.2],[545.2,545.3],
[545.4,545.5],[545.6,545.7],[545.8,545.8],[546,546],[546.2,546.2],[546.4,546.1],[546.6,546.3],[544.2,544.6],[544.1,544.4],[544.9,545.1],
[545.1,545.5],[545.3,545.4],[545.5,545.6],[545.7,545.8],[545.9,545.9],[546.1,546.1],[546.3,546.4],[546.5,546.4],[546.7,546.6],[544.6,545.2]
];

// ---------- text content ----------
const panelTags = ['a)', 'b)', 'c)', 'd)', 'b)', 'c)'];
const modelNames = ['Linear\nModel', 'Quadratic\nModel', 'Support\nVector\nRegressor', 'Neural\nNetwork'];
const delayErrors = ['2.07 fs', '1.67 fs', '1.67 fs', '1.59 fs'];
const energyDistErrors = ['1.45 eV', '1.03 eV'];
const energyPredErrors = ['0.46 eV', '0.40 eV'];

// ---------- layout ----------
const FAM = 'DejaVu Sans';
const fmt = v => (v < 0 ? '\u2212' + Math.abs(v) : String(v));
const grids = [
  {left: 71, top: 8, width: 270, height: 238},
  {left: 341, top: 8, width: 269, height: 238},
  {left: 71, top: 246, width: 270, height: 237},
  {left: 341, top: 246, width: 269, height: 237},
  {left: 54, top: 571, width: 243, height: 252},
  {left: 363, top: 571, width: 244, height: 252}
];
const panels = [
  {pts: linearPts.concat(linearCorePts), xr: delayX, yr: delayY, xt: delayTicks, yt: delayTicks, xl: false, yl: true, s: 10},
  {pts: quadraticPts.concat(quadraticCorePts), xr: delayX, yr: delayY, xt: delayTicks, yt: delayTicks, xl: false, yl: false, s: 10},
  {pts: svrPts.concat(svrCorePts), xr: delayX, yr: delayY, xt: delayTicks, yt: delayTicks, xl: true, yl: true, s: 10},
  {pts: nnPts.concat(nnCorePts), xr: delayX, yr: delayY, xt: delayTicks, yt: delayTicks, xl: true, yl: false, s: 10},
  {pts: energyBPts.concat(energyBCorePts), xr: energyBX, yr: energyBY, xt: energyBTicks, yt: energyBTicks, xl: true, yl: true, s: 8},
  {pts: energyCPts.concat(energyCCorePts), xr: energyCX, yr: energyCY, xt: energyCTicks, yt: energyCTicks, xl: true, yl: true, s: 8}
];

const xAxis = [], yAxis = [], series = [];
function axis(gi, r, ticks, pos, showLabel, margin) {
  return {
    gridIndex: gi, type: 'value', min: r[0], max: r[1], position: pos,
    axisLine: {show: false, onZero: false}, splitLine: {show: false},
    axisTick: {show: true, inside: true, length: 6, customValues: ticks, lineStyle: {color: '#000', width: 1}},
    axisLabel: {show: showLabel, customValues: ticks, margin: margin, formatter: fmt,
      fontSize: 16, fontFamily: FAM, color: '#000'}
  };
}
panels.forEach((p, i) => {
  xAxis.push(axis(i, p.xr, p.xt, 'bottom', p.xl, 6));
  xAxis.push(axis(i, p.xr, p.xt, 'top', false, 6));
  yAxis.push(axis(i, p.yr, p.yt, 'left', p.yl, 4));
  yAxis.push(axis(i, p.yr, p.yt, 'right', false, 4));
  series.push({
    type: 'scatter', xAxisIndex: 2 * i, yAxisIndex: 2 * i, data: p.pts,
    symbol: 'circle', symbolSize: p.s, silent: true, z: 2,
    itemStyle: {color: 'rgba(0,0,255,0.15)', borderWidth: 0}
  });
  const lo = Math.min(p.xr[0], p.yr[0]), hi = Math.max(p.xr[1], p.yr[1]);
  series.push({
    type: 'line', xAxisIndex: 2 * i, yAxisIndex: 2 * i, data: [[lo, lo], [hi, hi]],
    showSymbol: false, symbol: 'none', silent: true, z: 5, clip: true,
    lineStyle: {color: '#000', width: 1.5, type: [7, 5]}
  });
});

function txt(x, y, text, size, align, extra) {
  return Object.assign({
    type: 'text', x: x, y: y, silent: true, z: 100,
    style: {text: text, fill: '#000', font: size + 'px "' + FAM + '"',
      textAlign: align, textVerticalAlign: 'middle', lineHeight: Math.round(size * 1.18)}
  }, extra || {});
}
const graphic = [];
[[83, 28], [353, 28], [83, 265], [353, 265], [66, 590], [375, 590]].forEach((p, i) => {
  graphic.push(txt(p[0], p[1], panelTags[i], 19, 'left'));
});
[[160.5, 70.5], [430.5, 70.5], [160.5, 307.5], [430.5, 307.5]].forEach((p, i) => {
  const t = txt(p[0], p[1], 'Mean error\nof prediction:\n' + delayErrors[i], 16, 'center');
  t.style.lineHeight = 19;
  graphic.push(t);
});
[[333, 217], [603.5, 217], [333, 443], [604, 454]].forEach((p, i) => {
  const t = txt(p[0], p[1], modelNames[i], 19, 'right');
  t.style.lineHeight = 22;
  graphic.push(t);
});
[[240, 768.5], [550, 768.5]].forEach((p, i) => {
  const t = txt(p[0], p[1], 'Mean error of\ndistribution:\n' + energyDistErrors[i] + '\nMean error\nof prediction:\n' + energyPredErrors[i], 16, 'center');
  t.style.lineHeight = 18.2;
  graphic.push(t);
});
graphic.push(txt(341, 515, 'Measured delay [fs]', 20, 'center'));
graphic.push(txt(23, 245, 'Predicted delay [fs]', 20, 'center', {rotation: Math.PI / 2}));
graphic.push(txt(9, 697, 'Predicted value [eV]', 19, 'center', {rotation: Math.PI / 2}));
graphic.push(txt(318, 697, 'Predicted value [eV]', 19, 'center', {rotation: Math.PI / 2}));
[175.5, 485].forEach(cx => {
  const t = txt(cx, 866, 'Measured central\nphoton energy [eV]', 19, 'center');
  t.style.lineHeight = 20;
  graphic.push(t);
});
graphic.push({type: 'line', silent: true, shape: {x1: 0, y1: 542.5, x2: 614, y2: 542.5},
  style: {stroke: '#333', lineWidth: 1}});

const chart = echarts.init(document.getElementById('c'), null, {renderer: 'canvas'});
chart.setOption({
  animation: false,
  backgroundColor: '#fff',
  grid: grids.map(g => Object.assign({show: true, borderColor: '#000', borderWidth: 1.5,
    backgroundColor: 'transparent', containLabel: false, outerBoundsMode: 'none'}, g)),
  xAxis: xAxis, yAxis: yAxis, series: series, graphic: graphic
});
</script></body></html>
